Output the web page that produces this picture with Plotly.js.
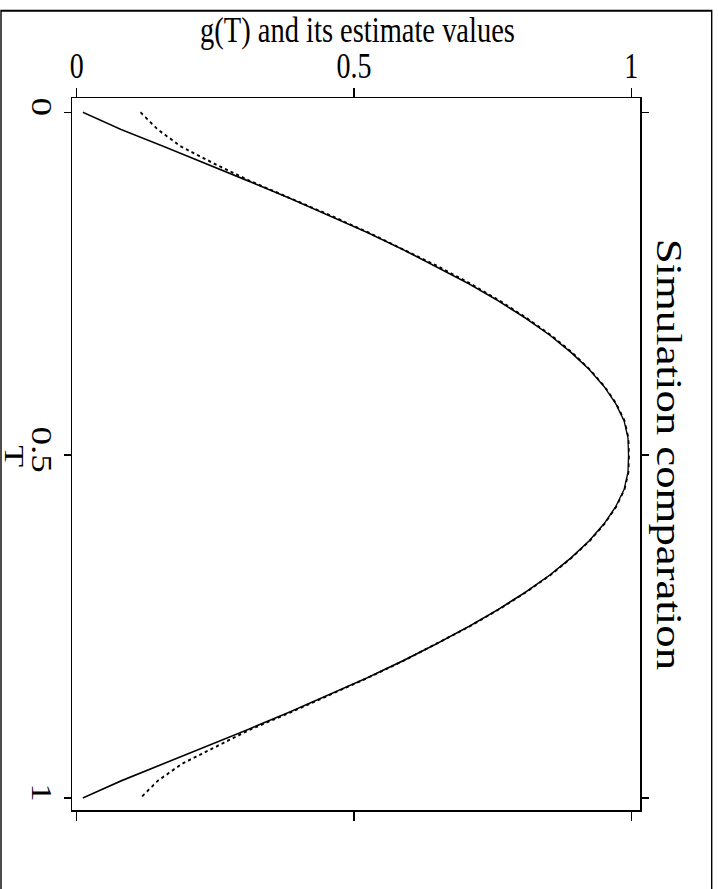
<!DOCTYPE html>
<html>
<head>
<meta charset="utf-8">
<script src="https://cdn.plot.ly/plotly-3.0.1.min.js"></script>
<style>
  html, body { margin: 0; padding: 0; background: #fff; }
  #wrap { width: 718px; height: 889px; overflow: hidden; position: relative; }
  #chart { width: 718px; height: 695px; transform: scaleY(1.2791); transform-origin: 0 0; }
</style>
</head>
<body>
<div id="wrap"><div id="chart"></div></div>
<script>
// T values (vertical axis, 0 at top)
const tValues = [0, 0.025, 0.05, 0.075, 0.1, 0.125, 0.15, 0.175, 0.2, 0.225, 0.25,
  0.275, 0.3, 0.325, 0.35, 0.375, 0.4, 0.425, 0.45, 0.475, 0.5,
  0.525, 0.55, 0.575, 0.6, 0.625, 0.65, 0.675, 0.7, 0.725, 0.75,
  0.775, 0.8, 0.825, 0.85, 0.875, 0.9, 0.925, 0.95, 0.975, 1];
// true g(T), solid line
const gTrue = [0.011, 0.080, 0.157, 0.234, 0.309, 0.383, 0.455, 0.523, 0.588, 0.649, 0.707,
  0.760, 0.809, 0.853, 0.891, 0.924, 0.951, 0.972, 0.987, 0.994, 0.995,
  0.994, 0.987, 0.972, 0.951, 0.924, 0.891, 0.853, 0.809, 0.760, 0.707,
  0.649, 0.588, 0.523, 0.455, 0.383, 0.309, 0.234, 0.157, 0.080, 0.011];
// estimate of g(T), dotted line
const gEst = [0.115, 0.146, 0.188, 0.248, 0.312, 0.385, 0.456, 0.525, 0.590, 0.652, 0.710,
  0.763, 0.811, 0.855, 0.893, 0.925, 0.952, 0.973, 0.988, 0.995, 0.996,
  0.995, 0.988, 0.973, 0.952, 0.925, 0.892, 0.854, 0.810, 0.761, 0.708,
  0.650, 0.589, 0.524, 0.456, 0.386, 0.313, 0.252, 0.190, 0.146, 0.115];
const gTicks = [0, 0.5, 1];
const gTickText = ['0', '0.5', '1'];
const tTicks = [0, 0.5, 1];
const tTickText = ['0', '0.5', '1'];

const FONT = 'Liberation Serif, Times New Roman, serif';

// plot area in (unstretched) pixels
const L = 72, R = 78, T = 77, B = 62, W = 718, H = 695;
const pw = W - L - R, ph = H - T - B;
const px2x = v => (v - L) / pw;
const py2y = v => (H - B - v) / ph;

const traces = [
  { x: gTrue, y: tValues, type: 'scatter', mode: 'lines',
    line: { color: '#000', width: 1.3 }, hoverinfo: 'skip', showlegend: false },
  { x: gEst, y: tValues, type: 'scatter', mode: 'lines',
    line: { color: '#000', width: 1.6, dash: 'dot' }, hoverinfo: 'skip', showlegend: false }
];

const layout = {
  width: W, height: H,
  margin: { l: L, r: R, t: T, b: B, pad: 0 },
  paper_bgcolor: '#fff', plot_bgcolor: '#fff',
  showlegend: false,
  font: { family: FONT, color: '#000' },
  xaxis: {
    side: 'top', range: [-0.0085, 1.0157],
    tickvals: gTicks, ticktext: gTickText,
    ticks: 'outside', ticklen: 7, tickwidth: 1.2, tickcolor: '#000',
    ticklabelstandoff: -4,
    showline: true, linecolor: '#000', linewidth: 1.5, mirror: 'ticks',
    showgrid: false, zeroline: false,
    tickfont: { family: FONT, size: 28, color: '#000' }
  },
  yaxis: {
    range: [1.017, -0.0201],
    tickvals: tTicks, ticktext: tTickText,
    ticks: 'outside', ticklen: 7, tickwidth: 1.2, tickcolor: '#000',
    ticklabelstandoff: -3,
    showline: true, linecolor: '#000', linewidth: 1.5, mirror: 'ticks',
    showgrid: false, zeroline: false, tickangle: 90,
    tickfont: { family: FONT, size: 29, color: '#000' }
  },
  annotations: [
    { text: 'g(T) and its estimate values', xref: 'paper', yref: 'paper',
      x: px2x(357), y: py2y(24), xanchor: 'center', yanchor: 'middle',
      showarrow: false, font: { family: FONT, size: 28.5, color: '#000' } },
    { text: 'T', xref: 'paper', yref: 'paper',
      x: px2x(15), y: py2y(356), xanchor: 'center', yanchor: 'middle',
      textangle: 90, showarrow: false, font: { family: FONT, size: 28, color: '#000' } },
    { text: 'Simulation comparation', xref: 'paper', yref: 'paper',
      x: px2x(668), y: py2y(354.6), xanchor: 'center', yanchor: 'middle',
      textangle: 90, showarrow: false, font: { family: FONT, size: 35, color: '#000' } }
  ],
  shapes: [
    { type: 'rect', xref: 'paper', yref: 'paper',
      x0: px2x(1), x1: px2x(711.7), y0: py2y(720), y1: py2y(8.4),
      line: { color: '#000', width: 1.4 }, fillcolor: 'rgba(0,0,0,0)', layer: 'below' }
  ]
};

Plotly.newPlot('chart', traces, layout, { displayModeBar: false, staticPlot: true });
</script>
</body>
</html>
